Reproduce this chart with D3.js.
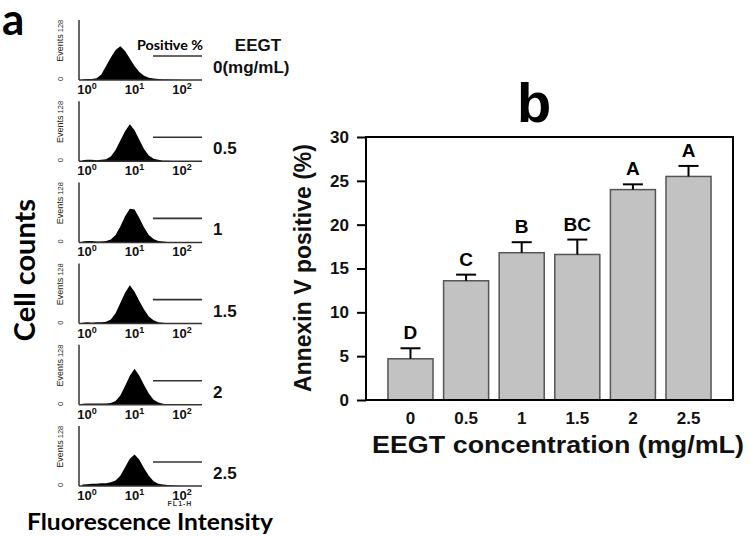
<!DOCTYPE html>
<html><head><meta charset="utf-8">
<script src="https://cdn.jsdelivr.net/npm/d3@7"></script>
<style>body{margin:0;background:#fff}svg{display:block}</style>
</head><body><svg id="c" width="751" height="536"></svg>
<script>
// ---------- DATA ----------
// Panel a: flow cytometry histograms (log10 FL1-H bins, Events 0..128)
const logBins = [-0.1,0,0.1,0.2,0.3,0.4,0.5,0.6,0.7,0.8,0.9,1.0,1.1,1.2,1.3,1.4,1.5,1.6,1.7,1.8,1.9,2.0,2.1,2.2,2.3,2.4];
const hist0   = [1,2,2,4,12,30,48,64,72,62,46,30,17,9,5,3,2,1,1,0.5,0.5,0,0,0,0,0];
const hist05  = [2,3,3,2,3,4,10,24,44,64,79,66,46,26,12,5,3,1,1,0.5,0,0,0,0,0,0];
const hist1   = [2,3,3,2,2,3,6,16,34,56,72,70,52,32,16,7,3,2,1,0.5,0,0,0,0,0,0];
const hist15  = [2,3,2,3,3,4,9,22,44,66,82,68,48,30,15,7,3,2,1,0.5,0,0,0,0,0,0];
const hist2   = [2,3,3,3,3,3,4,8,20,40,62,77,62,42,24,11,5,2,1,0.5,0,0,0,0,0,0];
const hist25  = [3,4,5,5,6,6,8,12,22,40,58,67,56,38,22,10,5,3,2,1,0.5,0,0,0,0,0];
const histSeries = [hist0, hist05, hist1, hist15, hist2, hist25];
const histLabels = ["0(mg/mL)", "0.5", "1", "1.5", "2", "2.5"];
const histTicks = [1, 10, 100];
const eventsDomain = [0, 128];

// Panel b: Annexin V positive (%)
const concentrations = ["0", "0.5", "1", "1.5", "2", "2.5"];
const annexinMeans  = [4.7, 13.6, 16.8, 16.6, 24.0, 25.5];
const annexinErrors = [1.2, 0.7, 1.2, 1.7, 0.6, 1.2];
const sigLetters    = ["D", "C", "B", "BC", "A", "A"];
const yTicks = [0, 5, 10, 15, 20, 25, 30];

// ---------- DRAW ----------
const svg = d3.select("#c");
const ARIAL = "'Liberation Sans', Arial, sans-serif";
const CAL = "Lato, 'Open Sans', sans-serif";

// ===== Panel a =====
svg.append("text").attr("x", 2).attr("y", 35).attr("font-family", CAL)
  .attr("font-weight", 700).attr("font-size", 44).text("a");

const hx = d3.scaleLog().domain([Math.pow(10, -0.17), Math.pow(10, 2.42)]).range([79, 202]);
const panelH = 60;
histSeries.forEach((vals, i) => {
  const base = 80 + i * 81.2;
  const hy = d3.scaleLinear().domain(eventsDomain).range([base, base - panelH]);
  const g = svg.append("g");
  const area = d3.area()
    .x((d, j) => hx(Math.pow(10, logBins[j])))
    .y0(base).y1(d => hy(d))
    .curve(d3.curveLinear);
  g.append("path").datum(vals).attr("d", area).attr("fill", "#000");
  // axes
  g.append("line").attr("x1", 79).attr("x2", 79).attr("y1", base - panelH).attr("y2", base)
    .attr("stroke", "#333").attr("stroke-width", 1.5);
  g.append("line").attr("x1", 79).attr("x2", 202).attr("y1", base).attr("y2", base)
    .attr("stroke", "#333").attr("stroke-width", 1.5);
  // tick labels 10^n
  histTicks.forEach((t) => {
    const tx = g.append("text").attr("x", hx(t)).attr("y", base + 14)
      .attr("text-anchor", "middle").attr("font-family", ARIAL).attr("font-weight", 700)
      .attr("font-size", 13).attr("fill", "#111");
    tx.append("tspan").text("10");
    tx.append("tspan").attr("dy", -5).attr("font-size", 9).text(String(Math.round(Math.log10(t))));
  });
  // Events labels (rotated)
  g.append("text").attr("transform", `translate(63,${base - 32}) rotate(-90)`)
    .attr("text-anchor", "middle").attr("font-family", ARIAL).attr("font-size", 9)
    .attr("fill", "#222").text("Events");
  g.append("text").attr("transform", `translate(63,${base - panelH + 6}) rotate(-90)`)
    .attr("text-anchor", "middle").attr("font-family", ARIAL).attr("font-size", 7.5)
    .attr("fill", "#222").text(eventsDomain[1]);
  g.append("text").attr("transform", `translate(63,${base - 1}) rotate(-90)`)
    .attr("text-anchor", "middle").attr("font-family", ARIAL).attr("font-size", 7.5)
    .attr("fill", "#222").text(eventsDomain[0]);
  // gate line
  g.append("line").attr("x1", 153).attr("x2", 202).attr("y1", base - 24).attr("y2", base - 24)
    .attr("stroke", "#333").attr("stroke-width", 1.6);
  // concentration label
  g.append("text").attr("x", 213).attr("y", base - 7).attr("font-family", ARIAL)
    .attr("font-weight", 700).attr("font-size", 17).attr("fill", "#111").text(histLabels[i]);
});
svg.append("text").attr("x", 258).attr("y", 51).attr("text-anchor", "middle")
  .attr("font-family", ARIAL).attr("font-weight", 700).attr("font-size", 17).attr("fill", "#111").text("EEGT");
svg.append("text").attr("x", 137).attr("y", 50).attr("font-family", CAL)
  .attr("font-weight", 700).attr("font-size", 14).attr("textLength", 66)
  .attr("lengthAdjust", "spacingAndGlyphs").text("Positive %");
svg.append("text").attr("x", 180).attr("y", 506).attr("text-anchor", "middle")
  .attr("font-family", ARIAL).attr("font-weight", 700).attr("font-size", 7)
  .attr("letter-spacing", 1).attr("fill", "#333").text("FL1-H");
svg.append("text").attr("transform", "translate(25,270) rotate(-90)").attr("text-anchor", "middle")
  .attr("dy", "0.35em").attr("font-family", CAL).attr("font-weight", 700).attr("font-size", 29)
  .text("Cell counts");
svg.append("text").attr("x", 27).attr("y", 530).attr("font-family", CAL)
  .attr("font-weight", 700).attr("font-size", 22).attr("textLength", 246)
  .attr("lengthAdjust", "spacingAndGlyphs").text("Fluorescence Intensity");

// ===== Panel b =====
const L = 366, R = 733, T = 137, B = 400;
const x = d3.scaleBand().domain(concentrations).range([L, R]).paddingInner(0.19).paddingOuter(0.395);
const y = d3.scaleLinear().domain([0, 30]).range([B, T]);

svg.append("text").attr("x", 534).attr("y", 122).attr("text-anchor", "middle")
  .attr("font-family", ARIAL).attr("font-weight", 700).attr("font-size", 56).text("b");

const gb = svg.append("g");
gb.selectAll("rect.bar").data(annexinMeans).join("rect").attr("class", "bar")
  .attr("x", (d, i) => x(concentrations[i])).attr("width", x.bandwidth())
  .attr("y", d => y(d)).attr("height", d => B - y(d))
  .attr("fill", "#c2c2c2").attr("stroke", "#555").attr("stroke-width", 1.5);

// error bars (upper only)
annexinMeans.forEach((m, i) => {
  const cx = x(concentrations[i]) + x.bandwidth() / 2;
  const top = y(m + annexinErrors[i]);
  gb.append("line").attr("x1", cx).attr("x2", cx).attr("y1", y(m)).attr("y2", top)
    .attr("stroke", "#000").attr("stroke-width", 2);
  gb.append("line").attr("x1", cx - 10).attr("x2", cx + 10).attr("y1", top).attr("y2", top)
    .attr("stroke", "#000").attr("stroke-width", 2);
  gb.append("text").attr("x", cx).attr("y", top - 9).attr("text-anchor", "middle")
    .attr("font-family", ARIAL).attr("font-weight", 700).attr("font-size", 19)
    .text(sigLetters[i]);
});

// frame
gb.append("rect").attr("x", L).attr("y", T).attr("width", R - L).attr("height", B - T)
  .attr("fill", "none").attr("stroke", "#000").attr("stroke-width", 2);

// y axis
const ya = gb.append("g").attr("transform", `translate(${L},0)`)
  .call(d3.axisLeft(y).tickValues(yTicks).tickSize(9).tickPadding(8));
ya.select(".domain").remove();
ya.selectAll("line").attr("stroke", "#000").attr("stroke-width", 2);
ya.selectAll("text").attr("font-family", ARIAL).attr("font-weight", 700).attr("font-size", 17).attr("fill", "#111");

// x axis labels
const xa = gb.append("g").attr("transform", `translate(0,${B})`)
  .call(d3.axisBottom(x).tickSize(0).tickPadding(8));
xa.select(".domain").remove();
xa.selectAll("text").attr("font-family", ARIAL).attr("font-weight", 700).attr("font-size", 17)
  .attr("fill", "#111").attr("dy", "0.95em");

svg.append("text").attr("x", 558).attr("y", 453).attr("text-anchor", "middle")
  .attr("font-family", ARIAL).attr("font-weight", 700).attr("font-size", 23)
  .attr("textLength", 372).attr("lengthAdjust", "spacingAndGlyphs").attr("fill", "#111")
  .text("EEGT concentration (mg/mL)");
svg.append("text").attr("transform", "translate(303,268) rotate(-90)").attr("text-anchor", "middle")
  .attr("dy", "0.35em").attr("font-family", ARIAL).attr("font-weight", 700).attr("font-size", 23)
  .attr("fill", "#111").text("Annexin V positive (%)");
</script></body></html>
